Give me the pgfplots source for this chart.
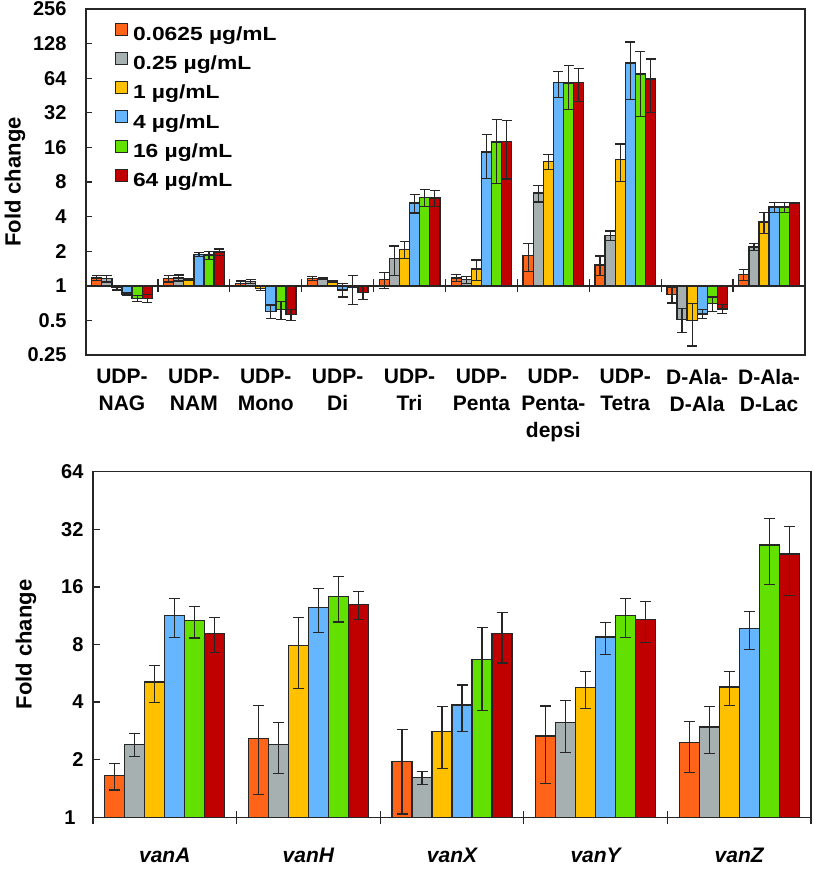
\documentclass[border=0pt]{standalone}
\usepackage{pgfplots}
\pgfplotsset{compat=1.18}
\usepackage{fontspec}
\setmainfont{Liberation Sans}
\newfontfamily\legfont[FakeStretch=1.2]{Liberation Sans}
\definecolor{cO}{HTML}{FF6419}
\definecolor{cG}{HTML}{A7B0B0}
\definecolor{cY}{HTML}{FFC000}
\definecolor{cB}{HTML}{66B5FF}
\definecolor{cGr}{HTML}{62E000}
\definecolor{cR}{HTML}{C00000}
\definecolor{ink}{HTML}{262626}
\pgfplotsset{
  mybarstyle/.style={fill=#1, draw=ink, line width=1.3pt,
    error bars/y dir=both, error bars/y explicit,
    error bars/error bar style={line width=1.2pt, draw=ink},
    error bars/error mark options={rotate=90, line width=1.2pt, draw=ink, mark size=5pt}},
  mybarstyleB/.style={fill=#1, draw=ink, line width=1.3pt,
    error bars/y dir=both, error bars/y explicit,
    error bars/error bar style={line width=1.2pt, draw=ink},
    error bars/error mark options={rotate=90, line width=1.2pt, draw=ink, mark size=5.5pt}},
}
\begin{document}
\begin{tikzpicture}
\path[use as bounding box] (0,0) rectangle (813pt,-869pt);
% ---------------- top panel ----------------
\begin{axis}[
  scale only axis,
  at={(86pt,-355pt)}, anchor=south west, width=719pt, height=346pt,
  ymode=log, log basis y=2, log origin y=0,
  ymin=0.25, ymax=256, xmin=0.5, xmax=10.5,
  axis line style={line width=1.5pt, draw=ink},
  ytick pos=left, tick align=inside,
  major tick length=6.5pt,
  tick style={line width=1.3pt, draw=ink},
  major x tick style={draw=none},
  minor tick num=0,
  ybar=0pt, bar width=10.1pt,
  clip=false,
  legend image code/.code={\draw[#1, line width=1pt, draw=ink] (0pt,0.6pt) rectangle (12pt,12.6pt);},
  ytick={0.25,0.5,1,2,4,8,16,32,64,128,256},
  yticklabels={0.25,0.5,1,2,4,8,16,32,64,128,256},
  yticklabel style={font=\bfseries\fontsize{20}{24}\selectfont, anchor=east, xshift=-16pt},
  xtick={1,...,10},
  xticklabels={{UDP-\\NAG},{UDP-\\NAM},{UDP-\\Mono},{UDP-\\Di},{UDP-\\Tri},{UDP-\\Penta},{UDP-\\Penta-\\depsi},{UDP-\\Tetra},{D-Ala-\\D-Ala},{D-Ala-\\D-Lac}},
  xticklabel style={font=\bfseries\fontsize{21}{27}\selectfont, align=center, anchor=north, yshift=-4pt},
  ylabel={Fold change},
  ylabel style={font=\bfseries\fontsize{22}{26}\selectfont, at={(axis description cs:-0.0988,0.5)}, anchor=center},
  legend style={at={(axis description cs:0,1)}, anchor=north west, xshift=29pt, yshift=-13.5pt,
    draw=none, fill=none, inner sep=0pt, outer sep=0pt, row sep=7.7pt,
    nodes={inner sep=0pt, text height=13pt, text depth=4pt},
    font=\legfont\bfseries\fontsize{19}{21}\selectfont,
    /tikz/every odd column/.append style={column sep=5pt}},
  legend cell align=left,
]
\addplot[mybarstyle=cO] coordinates {(1,1.17)+-(0,0.06) (2,1.15)+-(0,0.07) (3,1.05)+-(0,0.05) (4,1.16)+-(0,0.05) (5,1.13)+-(0,0.18) (6,1.17)+-(0,0.08) (7,1.84)+-(0,0.5) (8,1.52)+-(0,0.3) (9,0.84)+-(0,0.13) (10,1.25)+-(0,0.13)};
\addplot[mybarstyle=cG] coordinates {(1,1.15)+-(0,0.07) (2,1.17)+-(0,0.07) (3,1.09)+-(0,0.05) (4,1.15)+-(0,0.02) (5,1.72)+-(0,0.5) (6,1.13)+-(0,0.08) (7,6.4)+-(0,1.05) (8,2.74)+-(0,0.26) (9,0.51)+-(0,0.12) (10,2.17)+-(0,0.15)};
\addplot[mybarstyle=cY] coordinates {(1,0.96)+-(0,0.04) (2,1.13)+-(0,0.02) (3,0.95)+-(0,0.04) (4,1.08)+-(0,0.02) (5,2.08)+-(0,0.35) (6,1.4)+-(0,0.28) (7,12.1)+-(0,1.8) (8,12.6)+-(0,4.5) (9,0.5)+-(0,0.2) (10,3.58)+-(0,0.75)};
\addplot[mybarstyle=cB] coordinates {(1,0.85)+-(0,0.03) (2,1.88)+-(0,0.07) (3,0.6)+-(0,0.08) (4,0.92)+-(0,0.12) (5,5.25)+-(0,0.95) (6,14.6)+-(0,6) (7,58.4)+-(0,15) (8,87)+-(0,45) (9,0.57)+-(0,0.05) (10,4.84)+-(0,0.5)};
\addplot[mybarstyle=cGr] coordinates {(1,0.78)+-(0,0.05) (2,1.85)+-(0,0.15) (3,0.62)+-(0,0.11) (4,0.96)+-(0,0.27) (5,5.9)+-(0,1.0) (6,17.8)+-(0,10) (7,58)+-(0,24) (8,69.5)+-(0,40) (9,0.7)+-(0,0.1) (10,4.84)+-(0,0.5)};
\addplot[mybarstyle=cR] coordinates {(1,0.78)+-(0,0.06) (2,1.97)+-(0,0.12) (3,0.56)+-(0,0.06) (4,0.87)+-(0,0.11) (5,5.8)+-(0,0.9) (6,18)+-(0,9.5) (7,59)+-(0,19) (8,63)+-(0,31) (9,0.63)+-(0,0.06) (10,5.24)+-(0,0.05)};
\legend{0.0625 µg/mL,0.25 µg/mL,1 µg/mL,4 µg/mL,16 µg/mL,64 µg/mL}
\draw[line width=1.5pt, draw=ink] (axis cs:0.5,1) -- (axis cs:10.5,1);
\pgfplotsinvokeforeach{1.5,2.5,3.5,4.5,5.5,6.5,7.5,8.5,9.5}{
  \draw[line width=1.3pt, draw=ink] ([yshift=-6.5pt]axis cs:#1,1) -- ([yshift=6.5pt]axis cs:#1,1);
}
\end{axis}
% ---------------- bottom panel ----------------
\begin{axis}[
  scale only axis,
  at={(93pt,-817.3pt)}, anchor=south west, width=718pt, height=345.6pt,
  ymode=log, log basis y=2, log origin y=0,
  ymin=1, ymax=64, xmin=0.5, xmax=5.5,
  axis line style={line width=1.5pt, draw=ink},
  ytick pos=left, tick align=inside,
  major tick length=6.5pt,
  tick style={line width=1.3pt, draw=ink},
  major x tick style={draw=none},
  minor tick num=0,
  ybar=0pt, bar width=20pt,
  clip=false,
  ytick={1,2,4,8,16,32,64},
  yticklabels={1\kern8pt,2,4,8,16,32,64},
  yticklabel style={font=\bfseries\fontsize{20}{24}\selectfont, anchor=east, xshift=-6pt},
  xtick={1,...,5},
  xticklabels={vanA,vanH,vanX,vanY,vanZ},
  xticklabel style={font=\bfseries\itshape\fontsize{21}{25}\selectfont, anchor=north, yshift=-20.7pt},
  ylabel={Fold change},
  ylabel style={font=\bfseries\fontsize{22}{26}\selectfont, at={(axis description cs:-0.0933,0.5)}, anchor=center},
]
\addplot[mybarstyleB=cO] coordinates {(1,1.65)+-(0,0.26) (2,2.58)+-(0,1.27) (3,1.96)+-(0,0.92) (4,2.66)+-(0,1.16) (5,2.45)+-(0,0.73)};
\addplot[mybarstyleB=cG] coordinates {(1,2.41)+-(0,0.34) (2,2.41)+-(0,0.72) (3,1.61)+-(0,0.12) (4,3.13)+-(0,0.95) (5,2.97)+-(0,0.81)};
\addplot[mybarstyleB=cY] coordinates {(1,5.1)+-(0,1.1) (2,7.9)+-(0,3.2) (3,2.8)+-(0,1.0) (4,4.76)+-(0,1.04) (5,4.8)+-(0,0.97)};
\addplot[mybarstyleB=cB] coordinates {(1,11.3)+-(0,2.6) (2,12.45)+-(0,3.2) (3,3.86)+-(0,1.06) (4,8.75)+-(0,1.65) (5,9.7)+-(0,2.2)};
\addplot[mybarstyleB=cGr] coordinates {(1,10.65)+-(0,2.0) (2,14.3)+-(0,3.8) (3,6.7)+-(0,3.1) (4,11.3)+-(0,2.6) (5,26.5)+-(0,10)};
\addplot[mybarstyleB=cR] coordinates {(1,9.14)+-(0,1.9) (2,13.0)+-(0,2.2) (3,9.1)+-(0,2.7) (4,10.8)+-(0,2.6) (5,23.8)+-(0,9.4)};
\pgfplotsinvokeforeach{0.5,1.5,2.5,3.5,4.5,5.5}{
  \draw[line width=1.3pt, draw=ink] ([yshift=-6.5pt]axis cs:#1,1) -- ([yshift=6.5pt]axis cs:#1,1);
}
\end{axis}
\end{tikzpicture}
\end{document}
